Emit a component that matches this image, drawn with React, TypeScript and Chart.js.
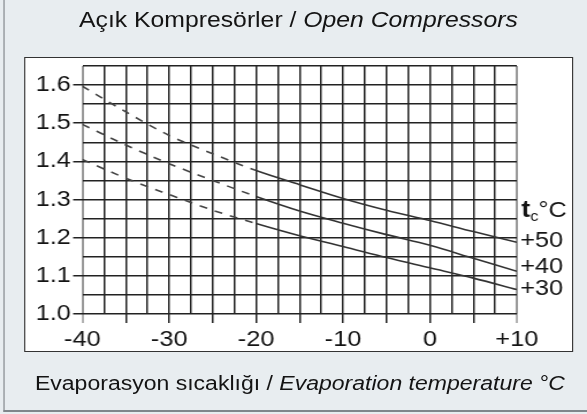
import React, { useEffect, useRef } from 'react';
import { Chart, registerables } from 'chart.js';

Chart.register(...registerables);

// ---- data ----
const evapTemps = [-40, -35, -30, -25, -20, -15, -10, -5, 0, 5, 10];
const ratioTc50 = [1.597, 1.53, 1.468, 1.42, 1.376, 1.339, 1.303, 1.272, 1.245, 1.216, 1.188];
const ratioTc40 = [1.497, 1.443, 1.394, 1.35, 1.308, 1.27, 1.238, 1.208, 1.18, 1.146, 1.112];
const ratioTc30 = [1.405, 1.356, 1.313, 1.272, 1.237, 1.205, 1.177, 1.148, 1.121, 1.094, 1.064];
const seriesNames = ['+50', '+40', '+30'];
const dashedUntil = -20;

const xMin = -40;
const xMax = 10;
const xGridStep = 2.5;
const xTickMarkStep = 5;
const xLabelStep = 10;
const yMin = 1.0;
const yMax = 1.65;
const yGridStep = 0.05;
const yLabelStep = 0.1;
const yLabelMax = 1.6;

const titleTr = 'Açık Kompresörler / ';
const titleEn = 'Open Compressors';
const xTitleTr = 'Evaporasyon sıcaklığı / ';
const xTitleEn = 'Evaporation temperature °C';

// ---- layout / style ----
const FONT = '"Liberation Sans", Arial, Helvetica, sans-serif';
const W = 510; // unstretched width
const H = 414;
const S = 587 / W; // horizontal stretch of the reference
const GRID = '#222';
const AXIS_GRAY = '#9a9a9a';
const LINE = '#333';
const TEXT = '#141414';

const isMult = (v: number, m: number) => Math.abs(v / m - Math.round(v / m)) < 1e-6;

const seriesLabelPlugin = {
  id: 'seriesLabels',
  afterDatasetsDraw(chart: any) {
    const { ctx, chartArea, scales } = chart;
    const y = scales.y;
    const ends = chart.data.datasets.map((d: any, i: number) => ({
      i,
      py: y.getPixelForValue(d.data[d.data.length - 1].y),
    }));
    const sorted = [...ends].sort((a, b) => b.py - a.py);
    const pos: number[] = [];
    let prev = Infinity;
    const gap = 22;
    sorted.forEach((e) => {
      const p = Math.min(e.py, prev - gap);
      pos[e.i] = p;
      prev = p;
    });
    const x0 = chartArea.right + 3;
    ctx.save();
    ctx.fillStyle = TEXT;
    ctx.textAlign = 'left';
    ctx.textBaseline = 'middle';
    ctx.font = `22px ${FONT}`;
    chart.data.datasets.forEach((d: any, i: number) => {
      ctx.fillText(d.label, x0, pos[i] - 1);
    });
    // header t_c °C
    const base = Math.min(...pos) + 7 - 32;
    ctx.textBaseline = 'alphabetic';
    ctx.font = `bold 23px ${FONT}`;
    let x = x0 + 1;
    ctx.fillText('t', x, base);
    x += ctx.measureText('t').width;
    ctx.font = `14px ${FONT}`;
    ctx.fillText('c', x, base + 4);
    x += ctx.measureText('c').width;
    ctx.font = `22px ${FONT}`;
    ctx.fillText('°C', x, base);
    ctx.restore();
  },
};

export default function App() {
  const canvasRef = useRef<HTMLCanvasElement | null>(null);

  useEffect(() => {
    const canvas = canvasRef.current;
    if (!canvas) return;
    const mk = (label: string, vals: number[]) => ({
      label,
      data: evapTemps.map((x, i) => ({ x, y: vals[i] })),
      borderColor: LINE,
      borderWidth: 1.6,
      pointRadius: 0,
      fill: false,
      cubicInterpolationMode: 'monotone' as const,
      segment: {
        borderDash: (c: any) => (c.p1.parsed.x <= dashedUntil + 1e-9 ? [7, 7] : undefined),
        borderColor: (c: any) => (c.p1.parsed.x <= dashedUntil + 1e-9 ? '#444' : undefined),
      },
    });
    const chart = new Chart(canvas, {
      type: 'line',
      data: {
        datasets: [mk(seriesNames[0], ratioTc50), mk(seriesNames[1], ratioTc40), mk(seriesNames[2], ratioTc30)],
      },
      options: {
        animation: false,
        responsive: false,
        maintainAspectRatio: false,
        layout: { padding: { left: 0, right: 61, top: 66, bottom: 50 } },
        plugins: { legend: { display: false }, tooltip: { enabled: false }, title: { display: false } },
        scales: {
          x: {
            type: 'linear',
            min: xMin,
            max: xMax,
            afterFit: (s: any) => {
              s.height = 50;
            },
            border: { display: false },
            grid: {
              color: (c: any) => {
                const v = c.tick ? c.tick.value : 0;
                return v === xMin || v === xMax ? AXIS_GRAY : GRID;
              },
              lineWidth: (c: any) => {
                const v = c.tick ? c.tick.value : 0;
                return v === xMin || v === xMax ? 2 : 1.5;
              },
              tickLength: 9,
              tickColor: (c: any) => {
                const v = c.tick ? c.tick.value : 0;
                if (!isMult(v, xTickMarkStep)) return 'rgba(0,0,0,0)';
                return v === xMin || v === xMax ? AXIS_GRAY : GRID;
              },
              tickWidth: 1.5,
            },
            ticks: {
              stepSize: xGridStep,
              autoSkip: false,
              maxRotation: 0,
              minRotation: 0,
              padding: 4,
              color: TEXT,
              font: { family: FONT, size: 22 },
              callback: (v: any) => {
                const n = Number(v);
                if (!isMult(n, xLabelStep)) return '';
                return n > 0 ? '+' + n : String(n);
              },
            },
          },
          y: {
            type: 'linear',
            min: yMin,
            max: yMax,
            afterFit: (s: any) => {
              s.width = 71.5;
            },
            border: { display: false },
            grid: {
              color: GRID,
              lineWidth: 1.5,
              tickLength: 8,
              tickColor: (c: any) => {
                const v = c.tick ? c.tick.value : 0;
                return isMult(v, yLabelStep) && v <= yLabelMax + 1e-6 ? GRID : 'rgba(0,0,0,0)';
              },
              tickWidth: 1.5,
            },
            ticks: {
              stepSize: yGridStep,
              autoSkip: false,
              padding: 2,
              color: TEXT,
              font: { family: FONT, size: 22 },
              callback: (v: any) => {
                const n = Number(v);
                return isMult(n, yLabelStep) && n <= yLabelMax + 1e-6 ? n.toFixed(1) : '';
              },
            },
          },
        },
      },
      plugins: [seriesLabelPlugin],
    });
    return () => chart.destroy();
  }, []);

  return (
    <div
      style={{
        position: 'fixed',
        left: 0,
        top: 0,
        width: 587,
        height: H,
        overflow: 'hidden',
        background: '#e8edf0',
      }}
    >
      <div
        style={{
          position: 'absolute',
          left: 0,
          top: 0,
          width: W,
          height: H,
          transform: `scaleX(${S})`,
          transformOrigin: '0 0',
          fontFamily: FONT,
          color: TEXT,
        }}
      >
        <div
          style={{
            position: 'absolute',
            left: 2.6,
            top: -10,
            width: 600,
            height: 421.7,
            boxSizing: 'border-box',
            borderLeft: '1.8px solid #80868b',
            borderBottom: '2px solid #80868b',
          }}
        />
        <div
          style={{
            position: 'absolute',
            left: 20.6,
            top: 57.3,
            width: 477.4,
            height: 295.2,
            boxSizing: 'border-box',
            border: '1.5px solid #333',
            background: '#fff',
          }}
        />
        <div
          style={{
            position: 'absolute',
            left: 4.3,
            top: 10.1,
            width: W,
            textAlign: 'center',
            fontSize: 21.5,
            lineHeight: '21.5px',
            whiteSpace: 'nowrap',
          }}
        >
          {titleTr}
          <i>{titleEn}</i>
        </div>
        <canvas
          ref={canvasRef}
          width={W}
          height={H}
          style={{ position: 'absolute', left: 0, top: 0, width: W, height: H }}
        />
        <div
          style={{
            position: 'absolute',
            left: 5.6,
            top: 372.5,
            width: W,
            textAlign: 'center',
            fontSize: 20,
            lineHeight: '20px',
            whiteSpace: 'nowrap',
          }}
        >
          {xTitleTr}
          <i>{xTitleEn}</i>
        </div>
      </div>
    </div>
  );
}
